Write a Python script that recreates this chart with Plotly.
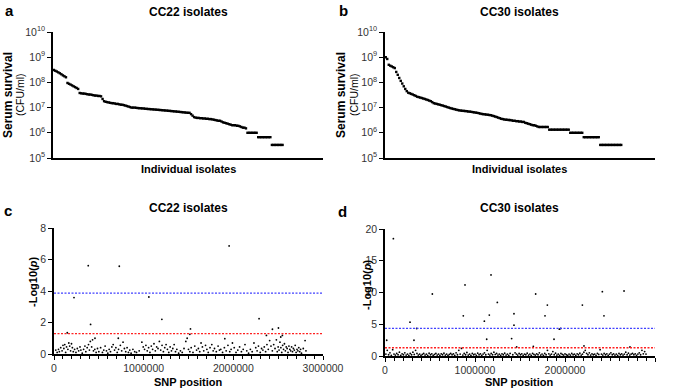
import plotly.graph_objects as go

# ---------------- data ----------------
# Panel a: CC22 serum survival (CFU/ml), ranked isolates
cc22_survival = [
    3.1e8, 2.9e8, 2.7e8, 2.5e8, 2.3e8, 2.1e8, 1.9e8, 1.75e8, 1.6e8,
    9.5e7, 8.8e7, 8.2e7, 7.6e7, 7.0e7, 6.5e7, 6.0e7, 5.5e7,
    3.8e7, 3.7e7, 3.6e7, 3.6e7, 3.5e7, 3.4e7, 3.3e7, 3.3e7, 3.2e7, 3.1e7, 3.0e7, 3.0e7, 2.9e7, 2.9e7, 2.8e7,
    2.2e7, 1.8e7,
    1.7e7, 1.65e7, 1.6e7, 1.55e7, 1.5e7, 1.5e7, 1.45e7, 1.4e7, 1.4e7, 1.35e7, 1.3e7, 1.3e7, 1.25e7, 1.2e7,
    1.15e7, 1.1e7, 1.05e7, 1.0e7, 1.0e7, 1.0e7,
    9.8e6, 9.6e6, 9.5e6, 9.4e6, 9.3e6, 9.2e6, 9.0e6, 8.9e6, 8.8e6, 8.7e6, 8.6e6, 8.5e6, 8.4e6, 8.3e6, 8.2e6,
    8.1e6, 8.0e6, 7.9e6, 7.8e6, 7.7e6, 7.6e6, 7.5e6, 7.4e6, 7.3e6, 7.2e6, 7.1e6, 7.0e6, 6.9e6, 6.8e6, 6.7e6,
    6.6e6, 6.5e6, 6.4e6, 6.3e6, 6.2e6, 6.2e6,
    5.5e6, 4.8e6, 4.2e6,
    4.0e6, 3.9e6, 3.9e6, 3.8e6, 3.8e6, 3.7e6, 3.7e6, 3.6e6, 3.6e6, 3.5e6, 3.5e6, 3.4e6, 3.3e6, 3.2e6, 3.1e6, 3.0e6, 3.0e6,
    2.8e6, 2.6e6, 2.5e6, 2.4e6, 2.3e6, 2.2e6, 2.1e6, 2.0e6, 2.0e6, 2.0e6, 1.9e6, 1.9e6, 1.8e6, 1.7e6, 1.6e6, 1.6e6, 1.5e6,
    1.0e6, 1.0e6, 1.0e6, 1.0e6, 1.0e6, 1.0e6, 1.0e6,
    6.7e5, 6.7e5, 6.7e5, 6.7e5, 6.7e5, 6.7e5, 6.7e5, 6.7e5, 6.7e5,
    3.3e5, 3.3e5, 3.3e5, 3.3e5, 3.3e5, 3.3e5, 3.3e5, 3.3e5,
]

# Panel b: CC30 serum survival (CFU/ml), ranked isolates
cc30_survival = [
    1.0e9, 8.5e8,
    5.0e8, 4.6e8, 4.3e8, 4.0e8, 3.7e8,
    2.6e8, 2.0e8, 1.5e8, 1.15e8, 9.0e7, 7.0e7, 5.5e7, 4.5e7,
    3.9e7, 3.7e7, 3.5e7, 3.3e7, 3.1e7,
    2.9e7, 2.7e7, 2.6e7, 2.5e7, 2.4e7,
    2.3e7, 2.2e7, 2.1e7, 2.0e7, 1.9e7, 1.8e7, 1.65e7, 1.5e7,
    1.45e7, 1.4e7, 1.35e7, 1.3e7, 1.25e7, 1.2e7, 1.15e7, 1.1e7, 1.05e7,
    1.0e7, 9.6e6, 9.2e6, 8.9e6, 8.6e6, 8.3e6, 8.0e6,
    7.8e6, 7.6e6, 7.5e6, 7.4e6, 7.3e6, 7.2e6, 7.0e6, 6.9e6, 6.8e6, 6.6e6, 6.5e6, 6.3e6, 6.2e6,
    6.0e6, 5.8e6, 5.6e6, 5.5e6, 5.4e6, 5.3e6, 5.2e6, 5.1e6, 5.0e6,
    4.8e6, 4.6e6, 4.4e6, 4.2e6, 4.0e6, 3.8e6, 3.6e6, 3.5e6, 3.4e6, 3.3e6,
    3.3e6, 3.2e6, 3.2e6, 3.1e6, 3.0e6, 3.0e6, 2.9e6, 2.9e6, 2.8e6, 2.8e6, 2.7e6, 2.7e6,
    2.5e6, 2.4e6, 2.3e6, 2.2e6, 2.1e6, 2.0e6, 2.0e6,
    1.9e6, 1.8e6, 1.7e6, 1.7e6, 1.7e6, 1.7e6, 1.7e6, 1.7e6, 1.7e6,
    1.33e6, 1.33e6, 1.33e6, 1.33e6, 1.33e6, 1.33e6, 1.33e6, 1.33e6, 1.33e6, 1.33e6, 1.33e6, 1.33e6, 1.33e6, 1.33e6,
    1.0e6, 1.0e6, 1.0e6, 1.0e6, 1.0e6, 1.0e6, 1.0e6, 1.0e6, 1.0e6,
    6.7e5, 6.7e5, 6.7e5, 6.7e5, 6.7e5, 6.7e5, 6.7e5, 6.7e5, 6.7e5, 6.7e5, 6.7e5,
    3.3e5, 3.3e5, 3.3e5, 3.3e5, 3.3e5, 3.3e5, 3.3e5, 3.3e5, 3.3e5, 3.3e5, 3.3e5, 3.3e5, 3.3e5, 3.3e5, 3.3e5,
]

# Panel c: CC22 GWAS, SNP position (kb) and -log10(p)
cc22_pos_kb = [
    382, 728, 1953, 223, 1058, 408, 1203, 2287, 1522, 2436, 2503, 148, 1515, 2369, 2547, 457, 717, 1905, 2529,
    20, 35, 50, 60, 75, 90, 100, 110, 120, 130, 140, 155, 165, 175, 185, 195, 205, 215, 230, 245, 260, 275,
    290, 300, 315, 330, 345, 355, 370, 385, 395, 405, 420, 430, 440, 455, 470, 485, 500, 520, 540, 555, 570,
    585, 600, 615, 630, 645, 660, 675, 690, 705, 720, 740, 755, 770, 785, 800, 815, 830, 845, 860, 880, 900,
    920, 950, 980, 995, 1010, 1025, 1040, 1055, 1070, 1085, 1100, 1115, 1130, 1145, 1160, 1175, 1190, 1205,
    1220, 1235, 1250, 1265, 1280, 1295, 1310, 1325, 1340, 1355, 1370, 1390, 1410, 1430, 1450, 1470, 1485,
    1500, 1515, 1530, 1550, 1570, 1590, 1610, 1625, 1640, 1655, 1670, 1690, 1705, 1720, 1740, 1760, 1775,
    1790, 1810, 1830, 1845, 1860, 1880, 1900, 1920, 1940, 1960, 1975, 1990, 2010, 2030, 2050, 2070, 2090,
    2110, 2130, 2150, 2170, 2190, 2210, 2230, 2250, 2265, 2280, 2300, 2315, 2330, 2345, 2360, 2375, 2390,
    2405, 2420, 2435, 2450, 2465, 2480, 2490, 2500, 2510, 2520, 2530, 2540, 2550, 2560, 2570, 2580, 2590,
    2600, 2610, 2620, 2630, 2640, 2650, 2660, 2670, 2680, 2690, 2700, 2710, 2720, 2730, 2740, 2750, 2760,
    2780, 2800, 2810,
]
cc22_logp = [
    5.61, 5.57, 6.86, 3.58, 3.62, 1.88, 2.20, 2.24, 1.59, 1.57, 1.65, 1.35, 1.25, 1.18, 1.18, 1.00, 1.00, 0.97, 1.08,
    0.25, 0.10, 0.30, 0.15, 0.40, 0.20, 0.55, 0.35, 0.60, 0.10, 0.45, 0.30, 0.70, 0.50, 0.20, 0.65, 0.40, 0.15, 0.30, 0.10, 0.35, 0.20,
    0.45, 0.25, 0.05, 0.30, 0.50, 0.15, 0.40, 0.60, 0.25, 0.80, 0.45, 0.90, 0.20, 0.30, 0.10, 0.35, 0.15, 0.40, 0.10, 0.25, 0.50,
    0.20, 0.05, 0.30, 0.15, 0.45, 0.60, 0.25, 0.40, 0.10, 0.30, 0.55, 0.20, 0.75, 0.35, 0.15, 0.40, 0.10, 0.25, 0.05, 0.30, 0.15,
    0.10, 0.20, 0.75, 0.45, 0.30, 0.55, 0.20, 0.40, 0.10, 0.50, 0.30, 0.65, 0.20, 0.45, 0.35, 0.80, 0.25, 0.55,
    0.15, 0.40, 0.60, 0.30, 0.10, 0.45, 0.20, 0.35, 0.60, 0.15, 0.30, 0.05, 0.20, 0.10, 0.35, 0.80, 1.00,
    0.30, 0.15, 0.40, 0.10, 0.50, 0.25, 0.35, 0.15, 0.70, 0.45, 0.20, 0.55, 0.30, 0.10, 0.40, 0.60, 0.20,
    0.35, 0.15, 0.50, 0.25, 0.30, 0.10, 0.40, 0.20, 0.55, 0.15, 0.30, 0.70, 0.40, 0.10, 0.25, 0.45, 0.15,
    0.30, 0.60, 0.20, 0.05, 0.30, 0.15, 0.70, 0.40, 0.20, 0.50, 0.10, 0.35, 0.25, 0.45, 0.15, 0.60, 0.30,
    0.85, 0.50, 0.20, 0.60, 0.35, 0.90, 0.15, 0.45, 0.25, 0.75, 0.40, 0.10, 0.55, 0.30, 0.65, 0.20, 0.45,
    0.35, 0.10, 0.50, 0.30, 0.20, 0.45, 0.15, 0.35, 0.25, 0.55, 0.10, 0.30, 0.20, 0.40, 0.15, 0.30, 0.05,
    0.35, 0.85, 0.20,
]

# Panel d: CC30 GWAS, SNP position (kb) and -log10(p)
cc30_pos_kb = [
    93, 19, 278, 322, 352, 526, 870, 889, 1104, 1130, 1159, 1178, 1248, 1407, 1433, 1433, 1463, 1674, 1778,
    1804, 1878, 1937, 1952, 2193, 2211, 2415, 2433, 2656, 2722, 1648,
    10, 25, 40, 55, 70, 85, 100, 115, 130, 145, 160, 175, 190, 205, 220, 235, 250, 265, 280, 295, 310, 325,
    340, 355, 370, 385, 400, 415, 430, 445, 460, 475, 490, 505, 520, 535, 550, 565, 580, 595, 610, 625, 640,
    655, 670, 685, 700, 715, 730, 745, 760, 775, 790, 805, 820, 835, 850, 865, 880, 895, 910, 925, 940, 955,
    970, 985, 1000, 1015, 1030, 1045, 1060, 1075, 1090, 1105, 1120, 1135, 1150, 1165, 1180, 1195, 1210, 1225,
    1240, 1255, 1270, 1285, 1300, 1315, 1330, 1345, 1360, 1375, 1390, 1420, 1445, 1460, 1475, 1490, 1505,
    1520, 1535, 1550, 1565, 1580, 1595, 1610, 1625, 1640, 1655, 1670, 1685, 1700, 1715, 1730, 1745, 1760,
    1775, 1790, 1805, 1820, 1835, 1850, 1865, 1880, 1895, 1910, 1925, 1940, 1955, 1970, 1985, 2000, 2015,
    2030, 2045, 2060, 2075, 2090, 2105, 2120, 2135, 2150, 2165, 2180, 2195, 2210, 2225, 2240, 2255, 2270,
    2285, 2300, 2315, 2330, 2345, 2360, 2375, 2390, 2405, 2420, 2435, 2450, 2465, 2480, 2495, 2510, 2525,
    2540, 2555, 2570, 2585, 2600, 2615, 2630, 2645, 2660, 2675, 2690, 2705, 2720, 2735, 2750, 2765, 2780,
    2795, 2810, 2825, 2840, 2855, 2870, 2885, 2900,
]
cc30_logp = [
    18.47, 2.48, 5.33, 2.48, 4.33, 9.76, 6.33, 11.19, 5.49, 2.64, 6.44, 12.77, 8.44, 2.74, 6.65, 4.85, 1.42, 9.76, 6.33,
    8.02, 2.64, 4.22, 4.33, 8.02, 1.58, 10.13, 6.33, 10.24, 1.42, 1.53,
    0.30, 0.90, 0.20, 0.50, 0.10, 1.00, 0.30, 0.15, 0.40, 0.20, 0.60, 0.10, 0.35, 0.20, 0.50, 0.15, 0.30, 0.10, 0.40, 0.20, 0.60, 0.25,
    0.90, 0.40, 0.15, 0.30, 0.10, 0.25, 0.40, 0.15, 0.30, 0.10, 0.45, 0.20, 0.35, 0.10, 0.25, 0.40, 0.15, 0.30, 0.10, 0.35, 0.20,
    0.45, 0.15, 0.30, 0.10, 0.25, 0.40, 0.20, 0.35, 0.10, 0.50, 0.20, 0.90, 0.30, 1.20, 0.15, 0.40, 0.20, 0.55, 0.15, 0.30, 0.10,
    0.40, 0.20, 0.30, 0.10, 0.45, 0.20, 0.35, 0.10, 0.30, 0.50, 0.20, 0.90, 0.30, 0.15, 0.40, 0.20, 0.60, 0.25,
    0.40, 0.15, 0.30, 0.10, 0.35, 0.20, 0.45, 0.15, 0.30, 0.10, 0.40, 0.20, 0.50, 0.30, 0.15, 0.40, 0.20,
    0.35, 0.10, 0.30, 0.20, 0.45, 0.15, 0.30, 0.10, 0.40, 0.25, 0.15, 0.35, 0.20, 0.50, 0.15, 0.30, 0.10,
    0.40, 0.20, 0.90, 0.35, 0.15, 0.30, 0.70, 0.20, 0.45, 0.15, 0.30, 0.10, 0.40, 0.25, 0.15, 0.35, 0.20,
    0.10, 0.30, 0.15, 0.40, 0.20, 0.30, 0.10, 0.35, 0.20, 0.45, 0.15, 0.30, 0.60, 0.90, 0.40, 0.20, 0.50,
    0.15, 0.35, 0.20, 0.30, 0.10, 0.40, 0.25, 1.00, 0.30, 0.15, 0.40, 0.20, 0.35, 0.10, 0.30, 0.50, 0.20,
    0.35, 0.15, 0.30, 0.10, 0.40, 0.20, 0.35, 0.15, 0.30, 0.60, 0.20, 0.45, 0.15, 0.30, 0.40, 0.20, 0.35,
    0.10, 0.30, 0.50, 0.20, 0.90, 0.35, 0.70, 0.30,
]

# significance thresholds (-log10 p)
cc22_thresholds = [3.87, 1.30]
cc30_thresholds = [4.35, 1.30]
threshold_colors = ["#4040ff", "#ff2020"]

log_tickvals = [1e5, 1e6, 1e7, 1e8, 1e9, 1e10]
log_ticktext = ["10<sup>5</sup>", "10<sup>6</sup>", "10<sup>7</sup>", "10<sup>8</sup>", "10<sup>9</sup>", "10<sup>10</sup>"]

W, H = 674, 390
FONT = "Liberation Sans, Arial, sans-serif"


def px_x(a, b):
    return [a / W, b / W]


def px_y(top, bottom):
    return [1 - bottom / H, 1 - top / H]


fig = go.Figure()

# ---- top panels ----
fig.add_trace(go.Scatter(x=list(range(len(cc22_survival))), y=cc22_survival, mode="markers",
                         marker=dict(symbol="square", size=2.4, color="black", line=dict(width=0)),
                         xaxis="x", yaxis="y", showlegend=False))
fig.add_trace(go.Scatter(x=list(range(len(cc30_survival))), y=cc30_survival, mode="markers",
                         marker=dict(symbol="square", size=2.4, color="black", line=dict(width=0)),
                         xaxis="x2", yaxis="y2", showlegend=False))

# ---- bottom panels ----
fig.add_trace(go.Scatter(x=[v * 1000 for v in cc22_pos_kb], y=cc22_logp, mode="markers",
                         marker=dict(size=1.8, color="black", line=dict(width=0)),
                         xaxis="x3", yaxis="y3", showlegend=False))
fig.add_trace(go.Scatter(x=[v * 1000 for v in cc30_pos_kb], y=cc30_logp, mode="markers",
                         marker=dict(size=1.8, color="black", line=dict(width=0)),
                         xaxis="x4", yaxis="y4", showlegend=False))

for th, col in zip(cc22_thresholds, threshold_colors):
    fig.add_shape(type="line", xref="x3", yref="y3", x0=0, x1=3000000, y0=th, y1=th,
                  line=dict(color=col, width=1.3, dash="2px,1.5px"))
for th, col in zip(cc30_thresholds, threshold_colors):
    fig.add_shape(type="line", xref="x4", yref="y4", x0=0, x1=3000000, y0=th, y1=th,
                  line=dict(color=col, width=1.3, dash="2px,1.5px"))

tickfont = dict(family=FONT, size=10.5, color="#333")
axis_common = dict(showline=True, linecolor="black", linewidth=1.6, showgrid=False, zeroline=False,
                   ticks="outside", tickcolor="black", tickwidth=1.2, ticklen=4, tickfont=tickfont,
                   automargin=False)
xbare = dict(showticklabels=False, showline=True, linecolor="black", linewidth=1.6, showgrid=False,
             zeroline=False, ticks="", automargin=False)
minor_ticks = dict(dtick=100000, tick0=0, ticks="outside", ticklen=3, tickcolor="black", tickwidth=1)

fig.update_layout(
    width=W, height=H, margin=dict(l=0, r=0, t=0, b=0, autoexpand=False),
    paper_bgcolor="white", plot_bgcolor="white",
    font=dict(family=FONT, color="black"),
    xaxis=dict(domain=px_x(53, 323), range=[-0.5, 176.5], anchor="y", **xbare),
    yaxis=dict(domain=px_y(32, 158), type="log", range=[5, 10], tickvals=log_tickvals,
               ticktext=log_ticktext, anchor="x", **axis_common),
    xaxis2=dict(domain=px_x(385, 655), range=[-0.5, 179.5], anchor="y2", **xbare),
    yaxis2=dict(domain=px_y(32, 158), type="log", range=[5, 10], tickvals=log_tickvals,
                ticktext=log_ticktext, anchor="x2", **axis_common),
    xaxis3=dict(domain=px_x(54, 323), range=[0, 3000000], anchor="y3", tickvals=[0, 1000000, 2000000, 3000000],
                ticktext=["0", "1000000", "2000000", "3000000"], minor=minor_ticks, **axis_common),
    yaxis3=dict(domain=px_y(228, 354), range=[0, 8], dtick=2, anchor="x3", **axis_common),
    xaxis4=dict(domain=px_x(385, 655), range=[0, 3000000], anchor="y4", tickvals=[0, 1000000, 2000000, 3000000],
                ticktext=["0", "1000000", "2000000", "3000000"], minor=minor_ticks, **axis_common),
    yaxis4=dict(domain=px_y(229, 356), range=[0, 20], dtick=5, anchor="x4", **axis_common),
)

anns = []


def add_text(x, y, text, size, angle=0):
    anns.append(dict(x=x / W, y=1 - y / H, xref="paper", yref="paper", text=text, showarrow=False,
                     textangle=angle, xanchor="center", yanchor="middle",
                     font=dict(family=FONT, size=size, color="black")))


# panel letters
add_text(9, 10, "<b>a</b>", 15)
add_text(343, 10, "<b>b</b>", 15)
add_text(8, 210, "<b>c</b>", 15)
add_text(342, 211, "<b>d</b>", 15)
# titles
add_text(188, 12, "<b>CC22 isolates</b>", 12)
add_text(519, 12, "<b>CC30 isolates</b>", 12)
add_text(188, 208, "<b>CC22 isolates</b>", 12)
add_text(519, 208, "<b>CC30 isolates</b>", 12)
# x axis titles
add_text(188, 169, "<b>Individual isolates</b>", 11)
add_text(519, 169, "<b>Individual isolates</b>", 11)
add_text(188, 382, "<b>SNP position</b>", 11)
add_text(519, 382, "<b>SNP position</b>", 11)
# y axis titles
add_text(8, 95, "<b>Serum survival</b>", 12, angle=-90)
add_text(20, 95, "(CFU/ml)", 10.5, angle=-90)
add_text(341, 95, "<b>Serum survival</b>", 12, angle=-90)
add_text(354, 95, "(CFU/ml)", 10.5, angle=-90)
add_text(33, 282, "<b>-Log10(<i>p</i>)</b>", 11, angle=-90)
add_text(367, 285, "<b>-Log10(<i>p</i>)</b>", 11, angle=-90)

fig.update_layout(annotations=anns)

fig.write_html("out.html", config={"displayModeBar": False},
               post_script="document.body.style.margin='0';document.body.style.overflow='hidden';")
